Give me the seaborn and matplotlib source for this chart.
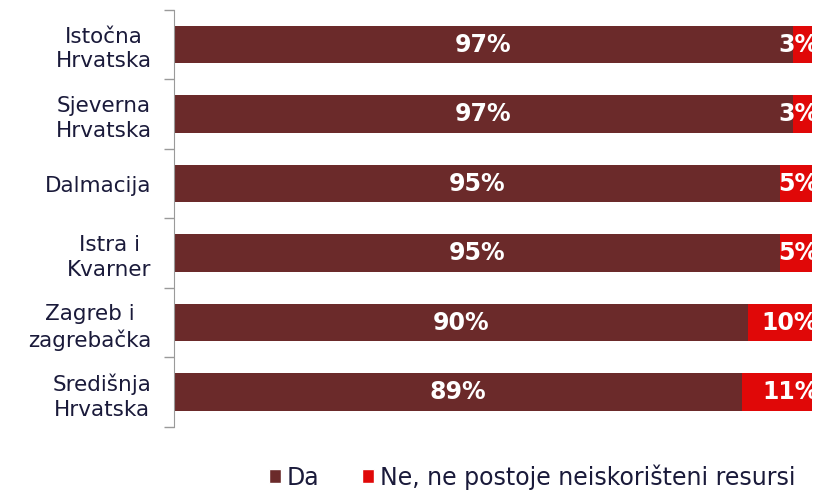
import matplotlib
matplotlib.use("Agg")
import matplotlib.pyplot as plt
import seaborn as sns
import numpy as np
import pandas as pd
from matplotlib.patches import Patch

# data
regions = ["Istočna\nHrvatska", "Sjeverna\nHrvatska", "Dalmacija", "Istra i\nKvarner",
           "Zagreb i\nzagrebačka", "Središnja\nHrvatska"]
da = [97, 97, 95, 95, 90, 89]
ne = [3, 3, 5, 5, 10, 11]
series_names = ["Da", "Ne, ne postoje neiskorišteni resursi"]

dark = "#6B2A2A"
red = "#E00808"

sns.set_style("white")
plt.rcParams["font.family"] = ["DejaVu Sans"]

df = pd.DataFrame({"region": regions, "da": da, "ne": ne})
df["total"] = df["da"] + df["ne"]

fig = plt.figure(figsize=(8.21, 4.90), dpi=100)
ax = fig.add_axes([0.212, 0.129, 0.777, 0.851])

# stacked: total in red underneath, "Da" on top
sns.barplot(data=df, x="total", y="region", orient="h", color=red, width=0.54,
            saturation=1, ax=ax, edgecolor="none")
sns.barplot(data=df, x="da", y="region", orient="h", color=dark, width=0.54,
            saturation=1, ax=ax, edgecolor="none")

for i, (d, n) in enumerate(zip(da, ne)):
    ax.text(d / 2, i, f"{d}%", ha="center", va="center", color="white",
            fontsize=17, fontweight="bold")
    ax.text(101, i, f"{n}%", ha="right", va="center", color="white",
            fontsize=17, fontweight="bold", clip_on=False)

ax.set_xlim(0, 100)
ax.set_ylim(len(regions) - 0.5, -0.5)
ax.set_xlabel("")
ax.set_ylabel("")
ax.xaxis.set_visible(False)
for s in ["top", "right", "bottom"]:
    ax.spines[s].set_visible(False)
ax.spines["left"].set_color("#9A9A9A")

ax.tick_params(axis="y", which="major", length=0, labelsize=15.5,
               labelcolor="#1A1A3A", pad=16)
for lab in ax.get_yticklabels():
    lab.set_multialignment("center")
    lab.set_linespacing(1.3)
ax.set_yticks(np.arange(-0.5, len(regions), 1), minor=True)
ax.tick_params(axis="y", which="minor", left=True, length=7, width=1,
               color="#9A9A9A", direction="out")

handles = [Patch(facecolor=dark, label=series_names[0]),
           Patch(facecolor=red, label=series_names[1])]
fig.legend(handles=handles, loc="center", bbox_to_anchor=(0.648, 0.027), ncol=2,
           frameon=False, fontsize=17, handlelength=0.5, handleheight=0.5,
           handletextpad=0.25, columnspacing=1.8, labelcolor="#1A1A3A")

fig.savefig("out.png", dpi=100)
